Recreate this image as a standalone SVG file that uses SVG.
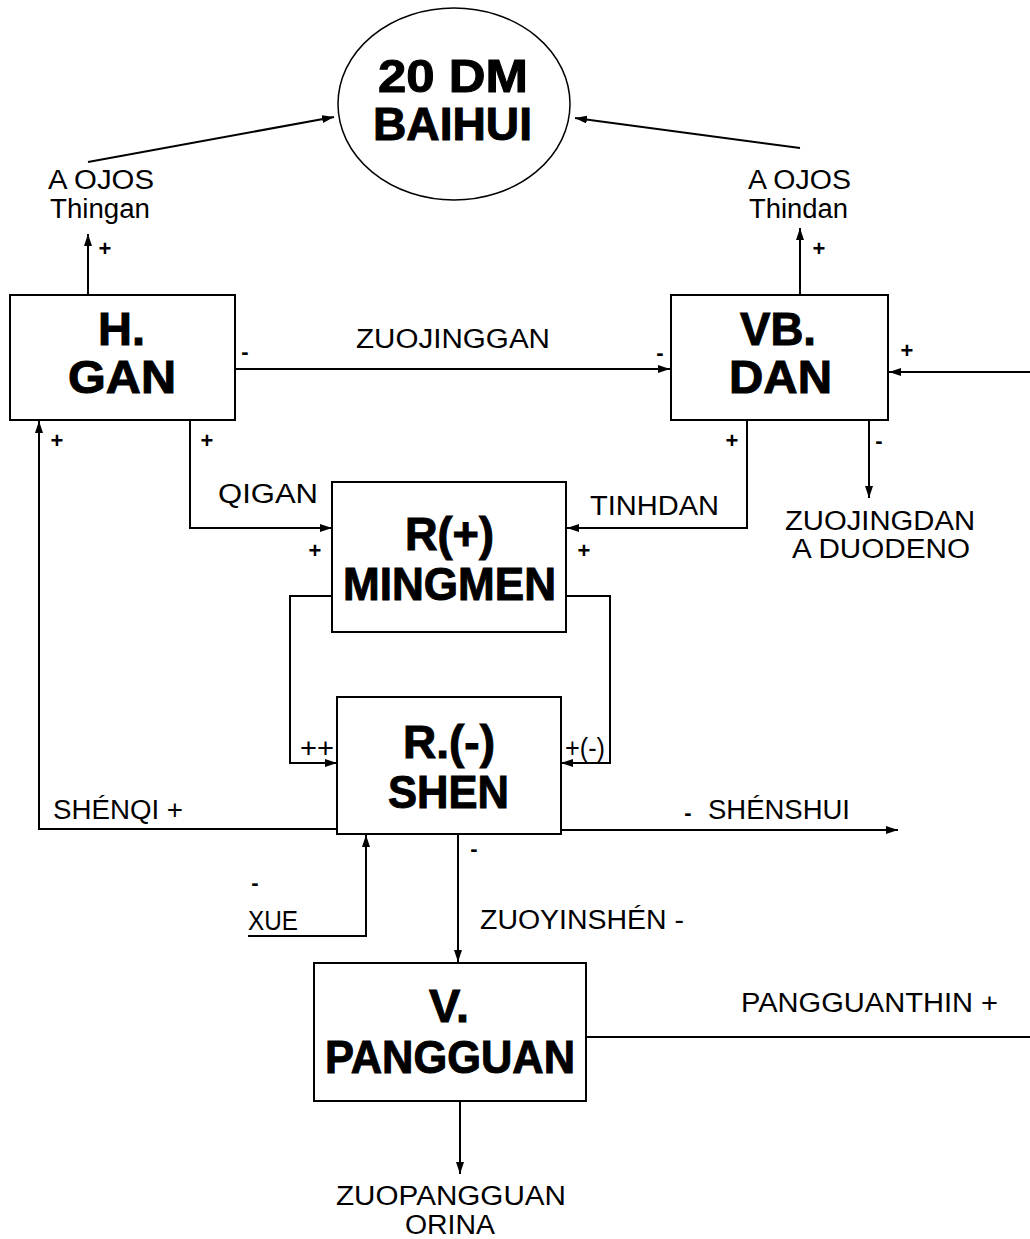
<svg xmlns="http://www.w3.org/2000/svg" width="1030" height="1239" viewBox="0 0 1030 1239">
<style>
.box{fill:#fff;stroke:#000;stroke-width:2}
.ln{fill:none;stroke:#000;stroke-width:2}
.b{font-family:"Liberation Sans",Arial,sans-serif;font-weight:bold;font-size:46px;fill:#000;stroke:#000;stroke-width:1}
.t{font-family:"Liberation Sans",Arial,sans-serif;font-size:27px;fill:#000}
.s{font-family:"Liberation Sans",Arial,sans-serif;font-weight:bold;font-size:22px;fill:#000;text-anchor:middle}
</style>
<defs>
<marker id="ah" viewBox="0 0 12 8" refX="12" refY="4" markerWidth="12" markerHeight="8" markerUnits="userSpaceOnUse" orient="auto">
<path d="M0,0 L12,4 L0,8 Z" fill="#000"/>
</marker>
</defs>
<g id="connectors">
<line class="ln" x1="88" y1="162" x2="334" y2="117" marker-end="url(#ah)"/>
<line class="ln" x1="800" y1="148" x2="575" y2="118" marker-end="url(#ah)"/>
<line class="ln" x1="88" y1="295" x2="88" y2="234" marker-end="url(#ah)"/>
<line class="ln" x1="800" y1="295" x2="800" y2="228" marker-end="url(#ah)"/>
<line class="ln" x1="235" y1="369" x2="670" y2="369" marker-end="url(#ah)"/>
<line class="ln" x1="1030" y1="372" x2="889" y2="372" marker-end="url(#ah)"/>
<polyline class="ln" points="190,420 190,528 332,528" marker-end="url(#ah)"/>
<polyline class="ln" points="747,420 747,528 567,528" marker-end="url(#ah)"/>
<line class="ln" x1="869" y1="420" x2="869" y2="498" marker-end="url(#ah)"/>
<polyline class="ln" points="332,596 290,596 290,763 337,763" marker-end="url(#ah)"/>
<polyline class="ln" points="566,596 610,596 610,763 561,763" marker-end="url(#ah)"/>
<polyline class="ln" points="337,829 39,829 39,421" marker-end="url(#ah)"/>
<polyline class="ln" points="248,936 366,936 366,835" marker-end="url(#ah)"/>
<line class="ln" x1="561" y1="830" x2="898" y2="830" marker-end="url(#ah)"/>
<line class="ln" x1="458" y1="834" x2="458" y2="962" marker-end="url(#ah)"/>
<line class="ln" x1="586" y1="1037" x2="1030" y2="1037"/>
<line class="ln" x1="460" y1="1101" x2="460" y2="1174" marker-end="url(#ah)"/>
</g>
<g id="baihui">
<ellipse cx="454" cy="104" rx="116" ry="96" fill="#fff" stroke="#000" stroke-width="1.5"/>
<text class="b" x="378" y="92" textLength="150" lengthAdjust="spacingAndGlyphs">20 DM</text>
<text class="b" x="373" y="140" textLength="159" lengthAdjust="spacingAndGlyphs">BAIHUI</text>
</g>
<g id="gan">
<rect class="box" x="10" y="295" width="225" height="125"/>
<text class="b" x="98" y="345" font-size="42" textLength="47" lengthAdjust="spacingAndGlyphs">H.</text>
<text class="b" x="68" y="393" font-size="42" textLength="108" lengthAdjust="spacingAndGlyphs">GAN</text>
</g>
<g id="dan">
<rect class="box" x="671" y="295" width="217" height="125"/>
<text class="b" x="740" y="345" font-size="42" textLength="76" lengthAdjust="spacingAndGlyphs">VB.</text>
<text class="b" x="729" y="393" font-size="42" textLength="103" lengthAdjust="spacingAndGlyphs">DAN</text>
</g>
<g id="mingmen">
<rect class="box" x="332" y="482" width="234" height="150"/>
<text class="b" x="405" y="550" textLength="89" lengthAdjust="spacingAndGlyphs">R(+)</text>
<text class="b" x="343" y="600" textLength="213" lengthAdjust="spacingAndGlyphs">MINGMEN</text>
</g>
<g id="shen">
<rect class="box" x="337" y="697" width="224" height="137"/>
<text class="b" x="403" y="758" textLength="92" lengthAdjust="spacingAndGlyphs">R.(-)</text>
<text class="b" x="388" y="808" textLength="121" lengthAdjust="spacingAndGlyphs">SHEN</text>
</g>
<g id="pangguan">
<rect class="box" x="314" y="963" width="272" height="138"/>
<text class="b" x="429" y="1022" textLength="40" lengthAdjust="spacingAndGlyphs">V.</text>
<text class="b" x="325" y="1073" textLength="250" lengthAdjust="spacingAndGlyphs">PANGGUAN</text>
</g>
<g id="labels">
<text class="t" x="48" y="189" textLength="106" lengthAdjust="spacingAndGlyphs">A OJOS</text>
<text class="t" x="50" y="218" textLength="100" lengthAdjust="spacingAndGlyphs">Thingan</text>
<text class="t" x="748" y="189" textLength="103" lengthAdjust="spacingAndGlyphs">A OJOS</text>
<text class="t" x="749" y="218" textLength="99" lengthAdjust="spacingAndGlyphs">Thindan</text>
<text class="t" x="356" y="348" textLength="194" lengthAdjust="spacingAndGlyphs">ZUOJINGGAN</text>
<text class="t" x="218" y="503" textLength="100" lengthAdjust="spacingAndGlyphs">QIGAN</text>
<text class="t" x="590" y="515" textLength="129" lengthAdjust="spacingAndGlyphs">TINHDAN</text>
<text class="t" x="785" y="530" textLength="190" lengthAdjust="spacingAndGlyphs">ZUOJINGDAN</text>
<text class="t" x="792" y="558" textLength="178" lengthAdjust="spacingAndGlyphs">A DUODENO</text>
<text class="t" x="53" y="819" textLength="130" lengthAdjust="spacingAndGlyphs">SHÉNQI +</text>
<text class="t" x="248" y="930" textLength="50" lengthAdjust="spacingAndGlyphs">XUE</text>
<text class="t" x="480" y="929" textLength="204" lengthAdjust="spacingAndGlyphs">ZUOYINSHÉN -</text>
<text class="t" x="708" y="819" textLength="142" lengthAdjust="spacingAndGlyphs">SHÉNSHUI</text>
<text class="t" x="741" y="1012" textLength="257" lengthAdjust="spacingAndGlyphs">PANGGUANTHIN +</text>
<text class="t" x="336" y="1205" textLength="230" lengthAdjust="spacingAndGlyphs">ZUOPANGGUAN</text>
<text class="t" x="405" y="1234" textLength="90" lengthAdjust="spacingAndGlyphs">ORINA</text>
<text class="s" x="105" y="256">+</text>
<text class="s" x="819" y="256">+</text>
<text class="s" x="57" y="448">+</text>
<text class="s" x="207" y="448">+</text>
<text class="s" x="315" y="558">+</text>
<text class="s" x="732" y="448">+</text>
<text class="s" x="584" y="558">+</text>
<text class="s" x="907" y="358">+</text>
<text class="s" x="245" y="359">-</text>
<text class="s" x="660" y="360">-</text>
<text class="s" x="879" y="448">-</text>
<text class="s" x="474" y="856">-</text>
<text class="s" x="255" y="890">-</text>
<text class="s" x="688" y="820">-</text>
<text class="t" x="300" y="757" font-size="22" textLength="34" lengthAdjust="spacingAndGlyphs">++</text>
<text class="t" x="565" y="757" font-size="22" textLength="40" lengthAdjust="spacingAndGlyphs">+(-)</text>
</g>
</svg>
